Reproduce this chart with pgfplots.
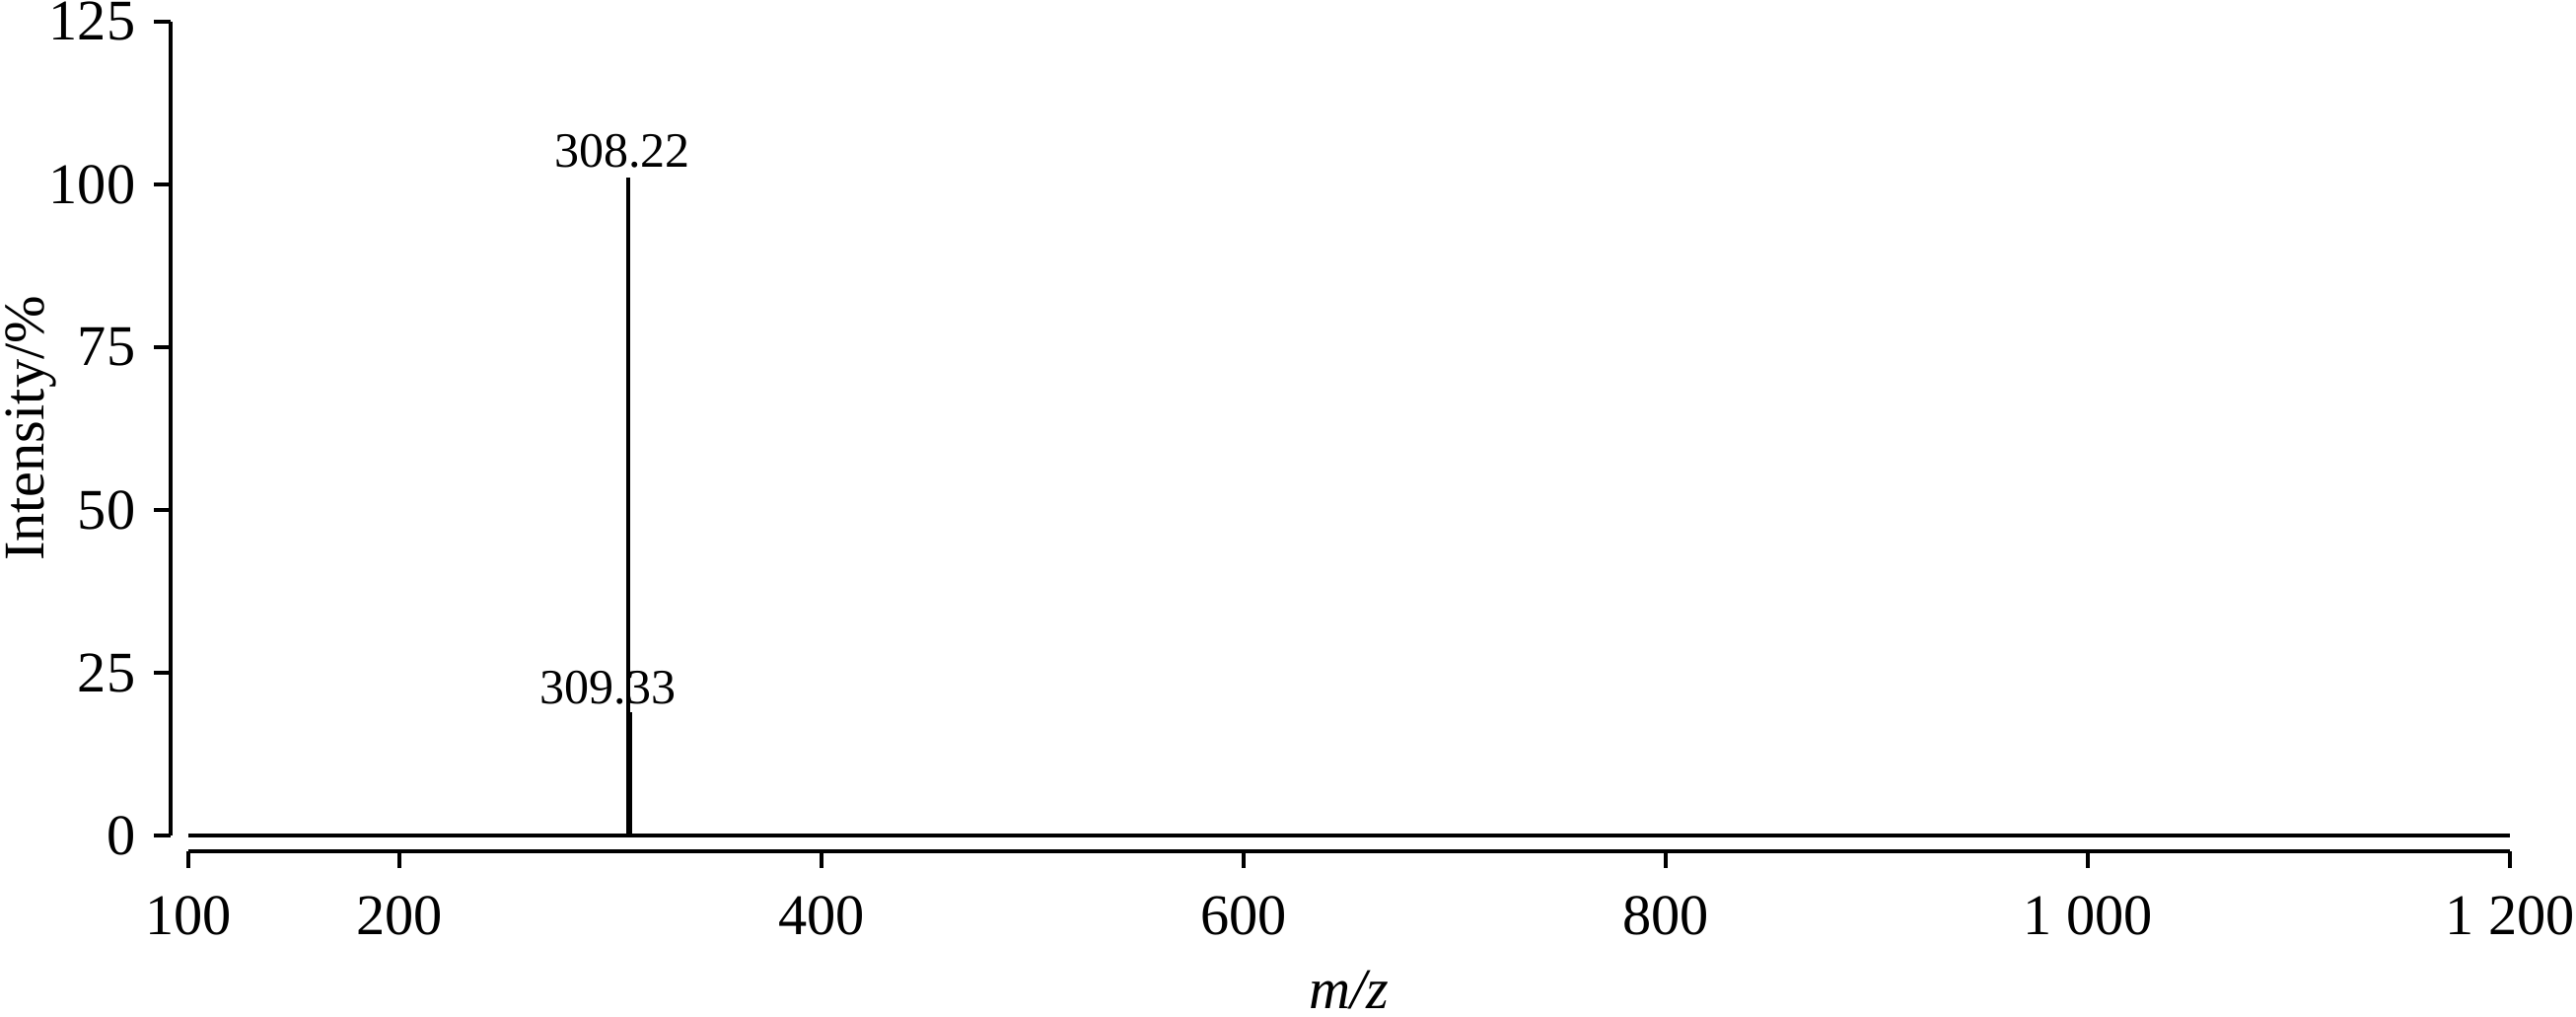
\documentclass[border=0pt]{standalone}
\usepackage{fontspec}
\setmainfont{Liberation Serif}
\usepackage{pgfplots}
\pgfplotsset{compat=1.18}
\begin{document}
\fontsize{17.5}{21}\selectfont
\begin{tikzpicture}
\begin{axis}[
  scale only axis=true,
  width=706.2pt, height=247.5pt,
  xmin=100, xmax=1200, ymin=0, ymax=125,
  axis lines*=left,
  separate axis lines,
  axis x line shift=4.8pt,
  axis y line shift=5.4pt,
  axis line style={line width=1.25pt},
  xtick={100,200,400,600,800,1000,1200},
  ytick={0,25,50,75,100,125},
  tick align=outside,
  major tick length=5pt,
  tick style={line width=1.25pt, black},
  /pgf/number format/assume math mode=true,
  /pgf/number format/1000 sep={\ },
  ticklabel style={font=\fontsize{17.5}{21}\selectfont, inner sep=0pt},
  xticklabel style={anchor=north, yshift=-8.5pt},
  yticklabel style={anchor=east, xshift=-5.5pt},
  xlabel={\textit{m/z}},
  ylabel={Intensity/\%},
  xlabel style={at={(axis description cs:0.5,0)}, anchor=base, yshift=-52.6pt, inner sep=0pt},
  ylabel style={at={(axis description cs:0,0.5)}, anchor=base, yshift=43.8pt, inner sep=0pt},
  label style={font=\fontsize{17.5}{21}\selectfont},
  clip=false,
]
\addplot[black, line width=1.2pt] coordinates {(100,0) (1200,0)};
\addplot[black, line width=1.2pt] coordinates {(309.33,0) (309.33,19)};
\addplot[black, line width=1.2pt] coordinates {(308.22,0) (308.22,101)};
\node[anchor=base, inner sep=0pt, font=\fontsize{15}{18}\selectfont] at (axis cs:305.6,102.6) {308.22};
\node[anchor=base, inner sep=0pt, font=\fontsize{15}{18}\selectfont] at (axis cs:298.8,20.2) {309.33};
\coordinate (bl) at (axis cs:100,0);
\coordinate (tr) at (axis cs:1200,125);
\end{axis}
\pgfresetboundingbox
\path ([xshift=-57.3pt,yshift=-55pt]bl) rectangle ([xshift=20.1pt,yshift=6.6pt]tr);
\end{tikzpicture}
\end{document}
